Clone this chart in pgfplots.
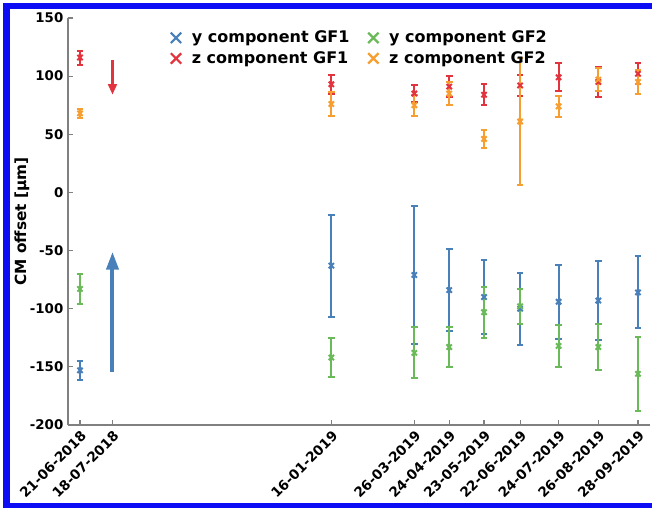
\documentclass[border=0pt]{standalone}
\usepackage{pgfplots}
\pgfplotsset{compat=1.18}
\usepackage{pgfplotstable}
\usepackage{fontspec}
\setmainfont{DejaVu Sans}
\usetikzlibrary{arrows.meta,calc}
\definecolor{cb}{RGB}{74,128,185}
\definecolor{cr}{RGB}{226,52,62}
\definecolor{cg}{RGB}{106,186,90}
\definecolor{co}{RGB}{246,158,48}
\definecolor{frameblue}{RGB}{12,12,245}

\pgfplotstableread{
d v e
0 -153 8
209 -63 44
278 -71 59
307 -84 35
336 -90 32
366 -100 31
398 -94 32
431 -93 34
464 -86 31
}\yone
\pgfplotstableread{
d v e
0 -83 13
209 -142 17
278 -138 22
307 -133 17
336 -103 22
366 -98 15
398 -132 18
431 -133 20
464 -156 32
}\ytwo
\pgfplotstableread{
d v e
0 116 6
209 93 8
278 85 7
307 91 9
336 84 9
366 92 9
398 99 12
431 95 13
464 102 9
}\zone
\pgfplotstableread{
d v e
0 68 4
209 76 10
278 75 9
307 85 10
336 46 8
366 61 55
398 74 9
431 97 10
464 95 10
}\ztwo

\begin{document}
\begin{tikzpicture}
\begin{axis}[
  scale only axis,
  width=436.5pt, height=305.25pt,
  xmin=-10, xmax=474, ymin=-200, ymax=150,
  axis lines=left,
  axis line style={-, draw=gray, line width=1.1pt},
  tick style={draw=gray, line width=0.9pt},
  major tick length=4pt,
  tick align=inside,
  xtick={0,27,209,278,307,336,366,398,431,464},
  xticklabels={21-06-2018,18-07-2018,16-01-2019,26-03-2019,24-04-2019,23-05-2019,22-06-2019,24-07-2019,26-08-2019,28-09-2019},
  xticklabel style={rotate=45, anchor=north east, font=\fontsize{10.2}{12}\selectfont\bfseries, inner sep=2.5pt},
  ytick={-200,-150,-100,-50,0,50,100,150},
  yticklabels={-200,-150,-100,-50,0,50,100,150},
  yticklabel style={font=\fontsize{10}{12}\selectfont\bfseries},
  ylabel={CM offset [µm]},
  ylabel style={at={(axis description cs:-0.079,0.5)}, anchor=center, font=\fontsize{11.5}{13}\selectfont\bfseries},
  legend columns=2,
  legend style={at={(0.502,0.982)}, anchor=north, draw=none, fill=none,
    font=\fontsize{12}{14}\selectfont\bfseries, row sep=1pt,
    /tikz/every odd column/.append style={column sep=6pt},
    /tikz/every even column/.append style={column sep=12pt}},
  legend cell align=left,
  error bars/error bar style={line width=1.5pt},
  error bars/error mark options={rotate=90, line width=1.5pt, mark size=2.5pt},
]
\addlegendimage{only marks, mark=x, cb, mark size=5.5pt, line width=1.7pt}
\addlegendentry{y component GF1}
\addlegendimage{only marks, mark=x, cg, mark size=5.5pt, line width=1.7pt}
\addlegendentry{y component GF2}
\addlegendimage{only marks, mark=x, cr, mark size=5.5pt, line width=1.7pt}
\addlegendentry{z component GF1}
\addlegendimage{only marks, mark=x, co, mark size=5.5pt, line width=1.7pt}
\addlegendentry{z component GF2}

\addplot[cb, only marks, mark=x, mark size=2.8pt, line width=1.5pt, forget plot,
  error bars/.cd, y dir=both, y explicit] table[x=d, y=v, y error=e] {\yone};
\addplot[cg, only marks, mark=x, mark size=2.8pt, line width=1.5pt, forget plot,
  error bars/.cd, y dir=both, y explicit] table[x=d, y=v, y error=e] {\ytwo};
\addplot[cr, only marks, mark=x, mark size=2.8pt, line width=1.5pt, forget plot,
  error bars/.cd, y dir=both, y explicit] table[x=d, y=v, y error=e] {\zone};
\addplot[co, only marks, mark=x, mark size=2.8pt, line width=1.5pt, forget plot,
  error bars/.cd, y dir=both, y explicit] table[x=d, y=v, y error=e] {\ztwo};

\addplot[cb, line width=3pt, -{Triangle[length=13.5pt, width=9pt]}, forget plot] coordinates {(27,-154) (27,-51)};
\addplot[cr, line width=2.2pt, -{Triangle[length=8pt, width=6.5pt]}, forget plot] coordinates {(27,114) (27,84)};

\coordinate (SW) at (rel axis cs:0,0);
\coordinate (NE) at (rel axis cs:1,1);
\end{axis}
\coordinate (PBL) at ($(SW)+(-51pt,-62.25pt)$);
\coordinate (PTR) at ($(NE)+(1.5pt,13.5pt)$);
\pgfresetboundingbox
\path[use as bounding box] (PBL) rectangle (PTR);
\begin{scope}
\clip (PBL) rectangle (PTR);
% top band
\fill[frameblue] ($(PBL |- PTR)+(2.2pt,-2.3pt)$) rectangle ($(PTR)+(0pt,-6.8pt)$);
% left band
\fill[frameblue] ($(PBL)+(2.2pt,0pt)$) rectangle ($(PBL |- PTR)+(7.4pt,-2.3pt)$);
% bottom band
\fill[frameblue] ($(PBL)+(2.2pt,0pt)$) rectangle ($(PBL -| PTR)+(0pt,3.9pt)$);
\end{scope}
\end{tikzpicture}
\end{document}
